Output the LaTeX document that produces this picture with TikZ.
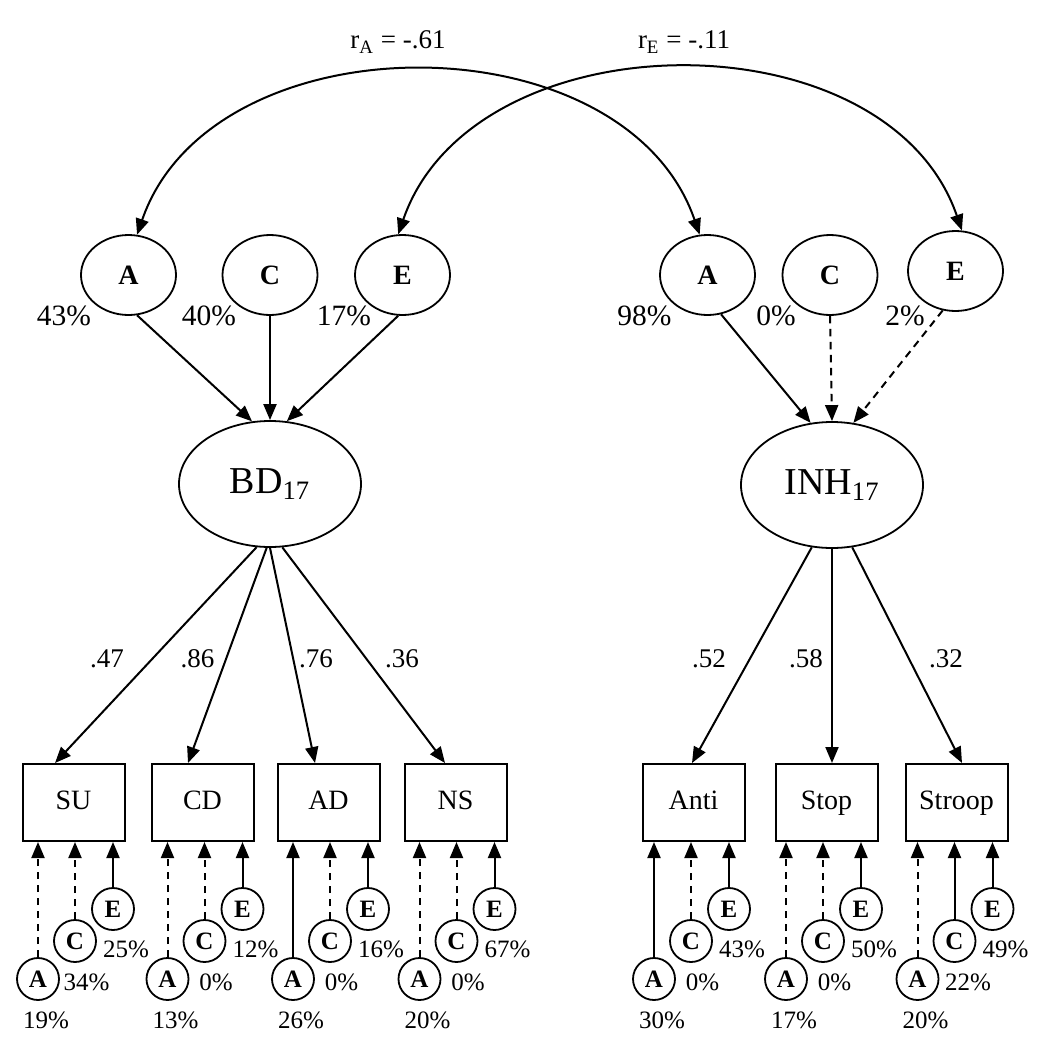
\documentclass[tikz,border=0pt]{standalone}
\usepackage{fontspec}
\setmainfont{Liberation Serif}
\usetikzlibrary{arrows.meta, shapes.geometric}

\begin{document}
\begin{tikzpicture}[x=0.5pt, y=-0.5pt, >={Triangle[length=8pt, width=6.5pt]},
  every node/.style={font=\fontsize{13}{15}\selectfont},
  trait/.style={line width=1pt},
  pointille/.style={dash pattern=on 3.75pt off 2.75pt},
  latent/.style={draw, ellipse, line width=0.9pt, minimum width=91pt, minimum height=63pt, inner sep=0pt, font=\fontsize{19}{22}\selectfont},
  compo/.style={draw, ellipse, line width=0.9pt, minimum width=47.5pt, minimum height=40pt, inner sep=0pt, font=\fontsize{14}{16}\selectfont\bfseries},
  indic/.style={draw, rectangle, line width=1pt, minimum width=51pt, minimum height=38.5pt, inner sep=0pt, text height=1.5ex, text depth=0pt, font=\fontsize{14}{16}\selectfont},
  residu/.style={draw, circle, line width=0.9pt, minimum size=21pt, inner sep=0pt, font=\fontsize{12.5}{14}\selectfont\bfseries},
  pct/.style={inner sep=0pt, font=\fontsize{14.75}{17}\selectfont},
  petitpct/.style={inner sep=0pt, font=\fontsize{12.5}{14}\selectfont},
  charge/.style={inner sep=0pt, font=\fontsize{13.5}{16}\selectfont}]

  % Cadre
  \useasboundingbox (0,0) rectangle (1050,1050);

  % Lignes des residus
  \pgfmathsetmacro{\yA}{979}
  \pgfmathsetmacro{\yC}{941}
  \pgfmathsetmacro{\yE}{909}
  \pgfmathsetmacro{\yPA}{1020}
  \pgfmathsetmacro{\yPC}{982}
  \pgfmathsetmacro{\yPE}{949}

  % Composantes BD
  \node[compo] (bdA) at (128.5,275) {A};
  \node[compo] (bdC) at (270,275) {C};
  \node[compo] (bdE) at (402.5,275) {E};
  \node[pct] (bdAp) at (64,316) {43\%};
  \node[pct] (bdCp) at (209,316) {40\%};
  \node[pct] (bdEp) at (344,316) {17\%};

  % Composantes INH
  \node[compo] (inA) at (707.5,275) {A};
  \node[compo] (inC) at (830,275) {C};
  \node[compo] (inE) at (955.5,271) {E};
  \node[pct] (inAp) at (644.5,316) {98\%};
  \node[pct] (inCp) at (776,316) {0\%};
  \node[pct] (inEp) at (905,316) {2\%};

  % Facteurs latents
  \node[latent] (bd) at (270,484) {BD\textsubscript{17}};
  \node[latent] (inh) at (832,485) {INH\textsubscript{17}};

  % Correlations
  \draw[trait, <->] (bdA.78) .. controls +(75,-218) and +(-75,-218) .. (inA.101);
  \draw[trait, <->] (bdE.96) .. controls +(75,-218) and +(-75,-218) .. (inE.81);
  \node[charge] (rA) at (398,42) {r\textsubscript{A} = -.61};
  \node[charge] (rE) at (684,42) {r\textsubscript{E} = -.11};

  % Vers les facteurs
  \draw[trait, ->] (bdA.282) -- (bd.106);
  \draw[trait, ->] (bdC.south) -- (bd.north);
  \draw[trait, ->] (bdE.264) -- (bd.75);
  \draw[trait, ->] (inA.289) -- (inh.109);
  \draw[trait, ->, pointille] (inC.south) -- (inh.north);
  \draw[trait, ->, pointille] (inE.252) -- (inh.71);

  % Indicateurs
  \node[indic] (su) at (73.5,802.5) {SU};
  \node[indic] (cd) at (202.5,802.5) {CD};
  \node[indic] (ad) at (328.5,802.5) {AD};
  \node[indic] (ns) at (455.5,802.5) {NS};
  \node[indic] (anti) at (693.5,802.5) {Anti};
  \node[indic] (stop) at (826.5,802.5) {Stop};
  \node[indic] (stroop) at (956.5,802.5) {Stroop};

  % Saturations
  \draw[trait, ->] (bd.258) -- ([xshift=-9.25pt]su.north);
  \draw[trait, ->] (bd.267) -- ([xshift=-7.25pt]cd.north);
  \draw[trait, ->] (bd.270) -- ([xshift=-6.75pt]ad.north);
  \draw[trait, ->] (bd.281) -- ([xshift=-5.25pt]ns.north);
  \draw[trait, ->] (inh.252) -- ([xshift=-0.75pt]anti.north);
  \draw[trait, ->] (inh.270) -- ([xshift=2.75pt]stop.north);
  \draw[trait, ->] (inh.288) -- ([xshift=2.75pt]stroop.north);
  \node[charge] (lsu) at (107,659) {.47};
  \node[charge] (lcd) at (197.5,659) {.86};
  \node[charge] (lad) at (316,659) {.76};
  \node[charge] (lns) at (402,659) {.36};
  \node[charge] (lanti) at (709,659) {.52};
  \node[charge] (lstop) at (806,659) {.58};
  \node[charge] (lstroop) at (946,659) {.32};

  % SU
  \node[residu] (suA) at (38,\yA) {A};
  \node[residu] (suC) at (75,\yC) {C};
  \node[residu] (suE) at (113,\yE) {E};
  \draw[trait, ->, pointille] (suA) -- (suA |- su.south);
  \draw[trait, ->, pointille] (suC) -- (suC |- su.south);
  \draw[trait, ->] (suE) -- (suE |- su.south);
  \node[petitpct] (suAp) at (46,\yPA) {19\%};
  \node[petitpct] (suCp) at (86.5,\yPC) {34\%};
  \node[petitpct] (suEp) at (126,\yPE) {25\%};

  % CD
  \node[residu] (cdA) at (167.5,\yA) {A};
  \node[residu] (cdC) at (204.5,\yC) {C};
  \node[residu] (cdE) at (242.5,\yE) {E};
  \draw[trait, ->, pointille] (cdA) -- (cdA |- cd.south);
  \draw[trait, ->, pointille] (cdC) -- (cdC |- cd.south);
  \draw[trait, ->] (cdE) -- (cdE |- cd.south);
  \node[petitpct] (cdAp) at (175.5,\yPA) {13\%};
  \node[petitpct] (cdCp) at (216,\yPC) {0\%};
  \node[petitpct] (cdEp) at (255.5,\yPE) {12\%};

  % AD
  \node[residu] (adA) at (293,\yA) {A};
  \node[residu] (adC) at (330,\yC) {C};
  \node[residu] (adE) at (368,\yE) {E};
  \draw[trait, ->] (adA) -- (adA |- ad.south);
  \draw[trait, ->, pointille] (adC) -- (adC |- ad.south);
  \draw[trait, ->] (adE) -- (adE |- ad.south);
  \node[petitpct] (adAp) at (301,\yPA) {26\%};
  \node[petitpct] (adCp) at (341.5,\yPC) {0\%};
  \node[petitpct] (adEp) at (381,\yPE) {16\%};

  % NS
  \node[residu] (nsA) at (419.5,\yA) {A};
  \node[residu] (nsC) at (456.5,\yC) {C};
  \node[residu] (nsE) at (494.5,\yE) {E};
  \draw[trait, ->, pointille] (nsA) -- (nsA |- ns.south);
  \draw[trait, ->, pointille] (nsC) -- (nsC |- ns.south);
  \draw[trait, ->] (nsE) -- (nsE |- ns.south);
  \node[petitpct] (nsAp) at (427.5,\yPA) {20\%};
  \node[petitpct] (nsCp) at (468,\yPC) {0\%};
  \node[petitpct] (nsEp) at (507.5,\yPE) {67\%};

  % Anti
  \node[residu] (antiA) at (654,\yA) {A};
  \node[residu] (antiC) at (691,\yC) {C};
  \node[residu] (antiE) at (729,\yE) {E};
  \draw[trait, ->] (antiA) -- (antiA |- anti.south);
  \draw[trait, ->, pointille] (antiC) -- (antiC |- anti.south);
  \draw[trait, ->] (antiE) -- (antiE |- anti.south);
  \node[petitpct] (antiAp) at (662,\yPA) {30\%};
  \node[petitpct] (antiCp) at (702.5,\yPC) {0\%};
  \node[petitpct] (antiEp) at (742,\yPE) {43\%};

  % Stop
  \node[residu] (stopA) at (786,\yA) {A};
  \node[residu] (stopC) at (823,\yC) {C};
  \node[residu] (stopE) at (861,\yE) {E};
  \draw[trait, ->, pointille] (stopA) -- (stopA |- stop.south);
  \draw[trait, ->, pointille] (stopC) -- (stopC |- stop.south);
  \draw[trait, ->] (stopE) -- (stopE |- stop.south);
  \node[petitpct] (stopAp) at (794,\yPA) {17\%};
  \node[petitpct] (stopCp) at (834.5,\yPC) {0\%};
  \node[petitpct] (stopEp) at (874,\yPE) {50\%};

  % Stroop
  \node[residu] (stroopA) at (917.5,\yA) {A};
  \node[residu] (stroopC) at (954.5,\yC) {C};
  \node[residu] (stroopE) at (992.5,\yE) {E};
  \draw[trait, ->, pointille] (stroopA) -- (stroopA |- stroop.south);
  \draw[trait, ->] (stroopC) -- (stroopC |- stroop.south);
  \draw[trait, ->] (stroopE) -- (stroopE |- stroop.south);
  \node[petitpct] (stroopAp) at (925.5,\yPA) {20\%};
  \node[petitpct] (stroopCp) at (968,\yPC) {22\%};
  \node[petitpct] (stroopEp) at (1005.5,\yPE) {49\%};

\end{tikzpicture}
\end{document}
